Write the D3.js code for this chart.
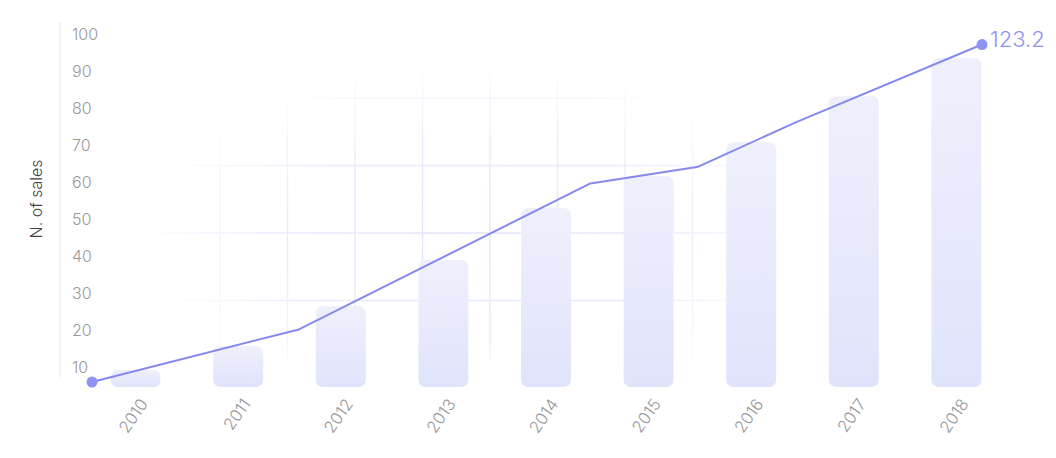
<!DOCTYPE html>
<html>
<head>
<meta charset="utf-8">
<script src="https://cdn.jsdelivr.net/npm/d3@7/dist/d3.min.js"></script>
<style>
  html, body { margin: 0; padding: 0; background: #ffffff; }
  svg { display: block; font-family: Inter, "Noto Sans", sans-serif; }
</style>
</head>
<body>
<svg id="chart" width="1056" height="458"></svg>
<script>
// ---- data ----
const years = ["2010", "2011", "2012", "2013", "2014", "2015", "2016", "2017", "2018"];
const barValues = [9.2, 15.7, 26.5, 38.9, 53.0, 61.6, 70.8, 83.2, 93.5];
const lineX = [2010, 2011.86, 2014.48, 2015.45, 2016.32, 2018];
const lineY = [0, 19.2, 72.5, 78.6, 94.7, 123.2];
const yTicks = [10, 20, 30, 40, 50, 60, 70, 80, 90, 100];
const yTitle = "N. of sales";

// ---- layout ----
const W = 1056, H = 458;
const plotBottom = 387;
const svg = d3.select("#chart");
const defs = svg.append("defs");

// scales
const x = d3.scaleBand().domain(years).range([58, 1034]).padding(0.513);
const y = d3.scaleLinear().domain([0, 100]).range([404, 34]);
const xl = d3.scaleLinear().domain([2010, 2018]).range([92, 982]);
const yl = d3.scaleLinear().domain([0, 125]).range([382, 39.6]);

// ---- decorative faded grid ----
const gcx = 472, gcy = 240;
const grad = defs.append("radialGradient").attr("id", "fade")
  .attr("gradientUnits", "userSpaceOnUse")
  .attr("cx", gcx).attr("cy", gcy).attr("r", 335)
  .attr("gradientTransform", `translate(${gcx},${gcy}) scale(1,0.54) translate(${-gcx},${-gcy})`);
grad.append("stop").attr("offset", 0).attr("stop-color", "#fff").attr("stop-opacity", 1);
grad.append("stop").attr("offset", 0.55).attr("stop-color", "#fff").attr("stop-opacity", 0.75);
grad.append("stop").attr("offset", 1).attr("stop-color", "#fff").attr("stop-opacity", 0);
const mask = defs.append("mask").attr("id", "gridMask");
mask.append("rect").attr("x", 0).attr("y", 0).attr("width", W).attr("height", H).attr("fill", "url(#fade)");

const grid = svg.append("g").attr("mask", "url(#gridMask)")
  .attr("stroke", "#e2e5fb").attr("stroke-width", 1.4);
const gx = d3.range(152.5, 800, 67.5);
const gy = d3.range(30.5, 360, 67.5);
grid.selectAll("line.v").data(gx).join("line").attr("class", "v")
  .attr("x1", d => d).attr("x2", d => d).attr("y1", 20).attr("y2", 360);
grid.selectAll("line.h").data(gy).join("line").attr("class", "h")
  .attr("x1", 100).attr("x2", 840).attr("y1", d => d).attr("y2", d => d);

// ---- y axis ----
svg.append("line").attr("x1", 60).attr("x2", 60).attr("y1", 22).attr("y2", 377)
  .attr("stroke", "#eceef5").attr("stroke-width", 1.5);

const yAxis = svg.append("g").attr("transform", "translate(72,0)")
  .call(d3.axisRight(y).tickValues(yTicks).tickSize(0).tickPadding(0));
yAxis.select(".domain").remove();
yAxis.selectAll("text")
  .attr("fill", "#999").attr("font-size", 16).attr("font-weight", 300)
  .attr("font-family", "Inter, sans-serif");

svg.append("text")
  .attr("transform", "translate(42,199) rotate(-90)")
  .attr("text-anchor", "middle")
  .attr("font-size", 16).attr("font-weight", 300)
  .attr("fill", "#444").text(yTitle);

// ---- bars ----
const bg = defs.append("linearGradient").attr("id", "barGrad")
  .attr("x1", 0).attr("y1", 0).attr("x2", 0).attr("y2", 1);
bg.append("stop").attr("offset", 0).attr("stop-color", "#eff0fc");
bg.append("stop").attr("offset", 1).attr("stop-color", "#e0e4fb");

svg.append("g").selectAll("rect").data(years).join("rect")
  .attr("x", d => x(d))
  .attr("width", x.bandwidth())
  .attr("y", (d, i) => y(barValues[i]))
  .attr("height", (d, i) => plotBottom - y(barValues[i]))
  .attr("rx", 7).attr("ry", 7)
  .attr("fill", "url(#barGrad)");

// ---- x axis labels ----
const xAxis = svg.append("g").attr("transform", `translate(0,${plotBottom})`)
  .call(d3.axisBottom(x).tickSize(0).tickPadding(0));
xAxis.select(".domain").remove();
xAxis.selectAll("text")
  .attr("fill", "#999").attr("font-size", 16.5).attr("font-weight", 300)
  .attr("font-family", "Inter, sans-serif")
  .attr("text-anchor", "end")
  .attr("dy", 0).attr("y", 0)
  .attr("transform", "translate(13,17) rotate(-55)");

// ---- line ----
const pts = lineX.map((v, i) => [xl(v), yl(lineY[i])]);
svg.append("path")
  .attr("d", d3.line()(pts))
  .attr("fill", "none").attr("stroke", "#8589ee").attr("stroke-width", 2)
  .attr("stroke-linejoin", "round");

const ends = [0, lineX.length - 1];
svg.append("g").selectAll("circle").data(ends).join("circle")
  .attr("cx", i => xl(lineX[i])).attr("cy", i => yl(lineY[i])).attr("r", 5.5)
  .attr("fill", "#8e92f0");

const last = lineX.length - 1;
svg.append("text")
  .attr("x", xl(lineX[last]) + 8).attr("y", yl(lineY[last]) - 6)
  .attr("dominant-baseline", "central")
  .attr("font-size", 22).attr("font-weight", 300)
  .attr("fill", "#8e92f0")
  .text(lineY[last].toFixed(1));
</script>
</body>
</html>
